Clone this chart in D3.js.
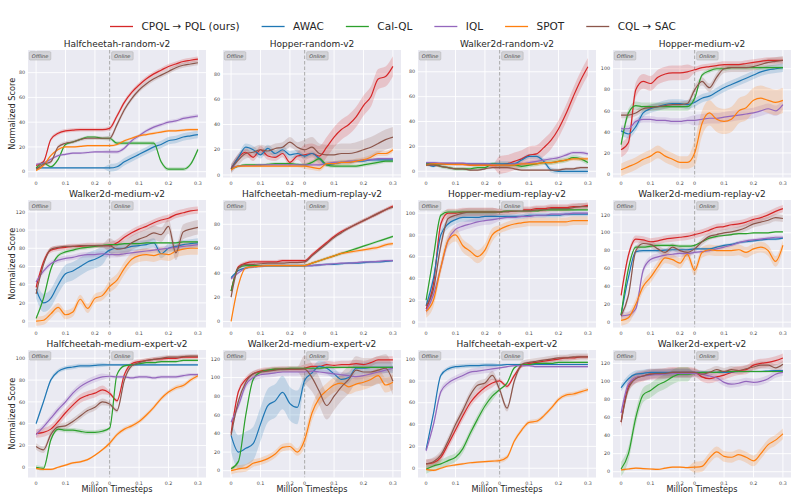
<!DOCTYPE html>
<html>
<head>
<meta charset="utf-8">
<script src="https://cdn.jsdelivr.net/npm/d3@7"></script>
<style>
  body { margin: 0; background: #fff; }
  svg { display: block; font-family: "DejaVu Sans", sans-serif; }
</style>
</head>
<body>
<div id="chart"></div>
<script>
/* global d3 */

// order of series everywhere: CPQL, AWAC, Cal-QL, IQL, SPOT, CQL
const seriesNames = ["CPQL \u2192 PQL (ours)", "AWAC", "Cal-QL", "IQL", "SPOT", "CQL \u2192 SAC"];
const seriesColors = ["#d62728", "#1f77b4", "#2ca02c", "#9467bd", "#ff7f0e", "#8c564b"];

// offline 0..0.25, then online 0..0.3 drawn after the dashed line
const timesteps = [0, 0.025, 0.05, 0.075, 0.1, 0.125, 0.15, 0.175, 0.2, 0.225, 0.25,
  0.275, 0.3, 0.325, 0.35, 0.375, 0.4, 0.425, 0.45, 0.475, 0.5, 0.525, 0.55];
const xTickValues = [0, 0.1, 0.2, 0.25, 0.35, 0.45, 0.55];
const xTickLabels = ["0", "0.1", "0.2", "0", "0.1", "0.2", "0.3"];

const panelTitles = [
  "Halfcheetah-random-v2", "Hopper-random-v2", "Walker2d-random-v2", "Hopper-medium-v2",
  "Walker2d-medium-v2", "Halfcheetah-medium-replay-v2", "Hopper-medium-replay-v2", "Walker2d-medium-replay-v2",
  "Halfcheetah-medium-expert-v2", "Walker2d-medium-expert-v2", "Halfcheetah-expert-v2", "Walker2d-expert-v2"
];
const panelYDomains = [
  [-4.7, 98.3], [-2, 99], [-5, 97.5], [-3.3, 117.8],
  [-7, 133], [-5, 100], [-5, 112], [-6, 136.7],
  [-9.4, 107.6], [-7.3, 129.6], [-8.5, 108.3], [-6.4, 134.8]
];
const panelYTicks = [
  [0, 20, 40, 60, 80], [0, 20, 40, 60, 80], [0, 20, 40, 60, 80], [0, 20, 40, 60, 80, 100],
  [0, 20, 40, 60, 80, 100, 120], [0, 20, 40, 60, 80], [0, 20, 40, 60, 80, 100], [0, 20, 40, 60, 80, 100, 120],
  [0, 20, 40, 60, 80, 100], [0, 20, 40, 60, 80, 100, 120], [0, 20, 40, 60, 80, 100], [0, 20, 40, 60, 80, 100, 120]
];

const halfcheetahRandom = [
  [5, 8, 26, 31, 33, 33.5, 34, 34, 34, 34, 35, 45, 56, 64, 70, 75, 79, 82, 85, 87, 89, 90, 91],
  [3, 3, 3, 3, 3, 3, 3, 3, 3, 3, 3, 4, 8, 11, 14, 17, 20, 22, 25, 26, 28, 29, 30],
  [3, 7, 4, 10, 22, 24, 26, 28, 28, 27, 27, 23, 23, 23, 23, 23, 23, 8, 2, 2, 2, 6, 18],
  [6, 7, 10, 13, 14, 15, 15, 15.5, 16, 16, 16, 16, 19, 25, 29, 33, 36, 38, 40, 41, 43, 44, 45],
  [1, 5, 13, 18, 20, 20, 20.5, 21, 21, 21, 21, 22, 25, 27, 29, 30, 31, 32, 33, 33, 33.5, 34, 34],
  [2, 6, 8, 20, 23, 24, 26, 27, 27, 27, 27, 38, 50, 59, 66, 71, 75, 78, 81, 84, 86, 87, 88]
];
const hopperRandom = [
  [5, 14, 18, 14, 20, 15, 14, 17, 10, 15, 16, 17, 15, 22, 30, 36, 40, 46, 55, 62, 76, 78, 86],
  [5, 14, 22, 20, 16, 21, 17, 20, 16, 17, 15, 17, 13, 8, 9, 10, 10, 11, 11, 12, 12, 12, 12],
  [5, 7, 8, 8, 8, 8.5, 9, 9, 9, 8.5, 8, 10, 13, 8, 7, 7, 7, 7, 8, 9, 10, 11, 11],
  [6, 7, 7.5, 7.5, 8, 8, 8, 8, 8, 8, 8, 8, 8, 9, 10, 10, 11, 11, 12, 12, 13, 13, 13],
  [4, 7, 7, 7, 7, 7, 7, 7, 7, 7, 7, 6, 5, 9, 9, 10, 10, 11, 12, 14, 17, 17, 20],
  [5, 12, 17, 18, 20, 19, 21, 22, 26, 22, 20, 22, 17, 16, 16, 17, 17, 18, 20, 22, 25, 28, 30]
];
const walkerRandom = [
  [6, 6, 6, 6, 5.5, 5.5, 5, 5, 5, 4.5, 5, 6, 8, 10, 13, 14, 19, 25, 34, 46, 60, 73, 84],
  [6, 4, 6, 6, 6, 6, 6, 6, 6, 6, 6, 6, 6, 9, 12, 12, 8, 1, 0, 0, 0, 0, 0],
  [6, 6, 4, 3, 2, 2, 2, 3, 3, 6, 5, 5, 5, 4, 5, 6, 7, 7, 8, 9, 11, 10, 7],
  [7, 7, 6.5, 6.5, 6.5, 6.5, 6, 6, 6, 5.5, 5, 5, 6, 6, 7, 8, 9, 10, 11, 13, 15, 15, 14],
  [5, 6, 6, 5.5, 5.5, 5.5, 5, 5, 5, 5, 5, 5, 5, 6, 6, 6, 7, 7, 8, 9, 10, 10, 10],
  [5, 5, 4, 3, 2, 2, 1, 1, 2, 3, 3, 3, 2, 1, 1, 1, 1, 1, 1, 2, 2, 3, 3]
];
const hopperMedium = [
  [23, 30, 80, 88, 86, 92, 95, 96, 96, 97, 99, 101, 102, 103, 104, 104, 104, 105, 106, 107, 108, 108, 108],
  [41, 38, 45, 58, 62, 64, 66, 67, 67, 66, 68, 72, 74, 78, 82, 85, 88, 91, 94, 97, 99, 100, 101],
  [28, 58, 65, 64, 64, 64, 64, 64, 64, 64, 72, 94, 98, 100, 100, 101, 101, 101, 101, 101, 101, 101, 101],
  [43, 43, 50, 52, 52, 51, 51, 50, 50, 51, 51, 52, 53, 53, 54, 55, 56, 57, 58, 60, 62, 60, 66],
  [4, 7, 10, 14, 17, 21, 17, 14, 11, 11, 20, 48, 58, 52, 50, 52, 60, 63, 70, 72, 70, 68, 70],
  [56, 56, 58, 62, 63, 64, 65, 66, 66, 67, 80, 88, 82, 92, 100, 101, 101, 101, 102, 104, 106, 107, 108]
];
const walkerMedium = [
  [37, 65, 78, 80, 81, 82, 82, 83, 83, 83, 83, 86, 92, 97, 101, 104, 108, 111, 113, 117, 119, 121, 122],
  [35, 20, 25, 40, 52, 55, 60, 65, 68, 72, 78, 80, 80, 82, 83, 84, 86, 74, 80, 82, 84, 85, 86],
  [3, 25, 57, 72, 76, 78, 80, 81, 82, 83, 84, 84, 85, 85, 85, 86, 86, 86, 86, 86, 87, 87, 87],
  [43, 55, 63, 67, 69, 70, 72, 73, 73, 74, 73, 73, 74, 75, 76, 77, 78, 79, 80, 81, 82, 83, 84],
  [0, 1, 8, 15, 7, 10, 24, 14, 25, 28, 38, 45, 58, 68, 72, 73, 72, 74, 73, 77, 79, 80, 80],
  [30, 62, 79, 81, 82, 82, 83, 83, 83, 83, 83, 79, 80, 86, 90, 93, 97, 95, 104, 75, 98, 101, 103]
];
const halfcheetahMediumReplay = [
  [25, 45, 48, 49, 49, 49, 49, 50, 50, 50, 50, 55, 60, 65, 70, 74, 77, 80, 83, 86, 89, 92, 95],
  [36, 42, 44, 45, 45.5, 46, 46, 46, 46, 46, 46, 46, 46.5, 47, 47, 47.5, 48, 48, 48.5, 49, 49, 49.5, 50],
  [25, 44, 46, 46, 46, 46, 46, 46, 46, 46, 46, 48, 50, 52, 54, 56, 58, 60, 62, 64, 66, 68, 70],
  [35, 40, 44, 45, 45.5, 46, 46, 46, 46, 46, 46, 46, 46.5, 47, 47.5, 48, 48, 48.5, 49, 49, 49.5, 50, 50],
  [0, 30, 44, 45, 45.5, 46, 46, 46, 46, 46, 46, 48, 50, 52, 54, 56, 57, 58, 59, 60, 61, 63, 64],
  [20, 44, 47, 47, 47.5, 48, 48, 48, 48.5, 48.5, 49, 54, 59, 64, 69, 73, 77, 80, 83, 86, 89, 92, 94]
];
const hopperMediumReplay = [
  [12, 35, 90, 100, 100, 101, 101, 101, 101, 101, 101, 102, 102, 103, 103, 104, 104, 105, 105, 105, 106, 106, 107],
  [15, 40, 80, 90, 94, 96, 96, 96, 97, 97, 97, 97, 97, 97, 98, 98, 98, 98, 98, 99, 99, 99, 99],
  [20, 60, 98, 101, 101, 101, 101, 101, 101, 101, 101, 102, 102, 102, 102, 102, 103, 103, 103, 103, 103, 103, 103],
  [10, 25, 50, 75, 85, 88, 90, 92, 93, 94, 95, 96, 96, 97, 97, 98, 98, 99, 99, 99, 100, 100, 100],
  [10, 20, 50, 75, 80, 70, 65, 60, 66, 80, 85, 88, 90, 91, 92, 92, 92, 92, 92, 92, 93, 93, 93],
  [15, 30, 70, 95, 98, 100, 101, 101, 101, 101, 101, 101, 102, 102, 102, 103, 103, 104, 104, 104, 105, 106, 106]
];
const walkerMediumReplay = [
  [30, 75, 93, 92, 90, 91, 93, 94, 95, 96, 98, 100, 103, 106, 107, 109, 110, 112, 115, 117, 120, 124, 127],
  [8, 50, 79, 80, 80, 80, 80.5, 81, 81, 81, 82, 82, 82, 84, 86, 87, 89, 90, 91, 92, 93, 93, 94],
  [8, 60, 84, 84, 85, 86, 86, 86, 85, 85, 86, 90, 94, 96, 97, 98, 99, 99, 100, 100, 100, 101, 101],
  [7, 8, 15, 58, 70, 73, 75, 76, 77, 77, 78, 79, 80, 82, 84, 86, 89, 91, 92, 93, 94, 95, 95],
  [2, 5, 20, 40, 50, 62, 72, 70, 66, 76, 58, 78, 81, 80, 80, 80, 81, 78, 82, 84, 80, 68, 86],
  [7, 30, 80, 88, 87, 82, 78, 84, 80, 78, 82, 90, 96, 98, 100, 101, 103, 106, 110, 112, 114, 117, 116]
];
const halfcheetahMediumExpert = [
  [31, 32, 35, 42, 50, 57, 63, 66, 68, 71, 68, 61, 85, 95, 97, 98, 99, 99.5, 100, 100, 101, 101, 101],
  [40, 60, 80, 88, 91, 92, 93, 93, 93.5, 94, 94, 94, 94, 94, 94, 94, 94, 94, 94, 94, 94, 94, 94],
  [0, -1, 25, 35, 34, 34, 33, 32, 32, 33, 36, 85, 93, 94, 95, 96, 96, 97, 97, 97, 98, 98, 98],
  [30, 37, 45, 53, 60, 68, 74, 78, 81, 83, 83.5, 83, 83, 82, 83, 83, 82, 83, 83, 83, 84, 85, 85],
  [-1, -2, -2, 0, 2, 4, 5, 7, 11, 16, 22, 30, 35, 38, 42, 48, 55, 63, 69, 73, 75, 80, 84],
  [19, 16, 30, 37, 38, 42, 47, 52, 55, 60, 58, 52, 80, 93, 96, 98, 99, 100, 101, 101, 101.5, 102, 102]
];
const walkerMediumExpert = [
  [40, 85, 98, 104, 107, 108, 109, 109, 109, 109, 110, 112, 112, 114, 113, 114, 114, 115, 114, 116, 119, 119, 119],
  [38, 20, 24, 29, 50, 70, 75, 84, 72, 68, 97, 105, 112, 110, 104, 98, 100, 110, 110, 111, 111, 111, 111],
  [2, 10, 60, 98, 106, 108, 109, 109, 110, 110, 110, 110, 110, 111, 111, 111, 111, 111, 111, 111, 111, 111, 111],
  [52, 70, 92, 100, 103, 104, 105, 106, 106, 106, 106, 107, 106, 105, 104, 103, 102, 101, 102, 104, 106, 108, 110],
  [0, 2, 3, 8, 10, 13, 18, 25, 26, 20, 33, 62, 78, 86, 92, 94, 90, 93, 95, 98, 102, 92, 95],
  [38, 75, 95, 104, 106, 107, 108, 109, 109, 109, 109, 100, 85, 70, 80, 90, 98, 108, 106, 106, 108, 110, 96]
];
const halfcheetahExpert = [
  [4, 5, 10, 22, 35, 48, 60, 68, 74, 78, 80, 75, 85, 94, 96, 97, 98, 99, 100, 101, 101, 102, 102],
  [17, 50, 85, 91, 93, 93.5, 94, 94, 94.5, 94.5, 94.5, 95, 95, 95, 95, 95, 95, 95, 95, 95, 95, 95, 95],
  [-1, 2, 4, 7, 10, 18, 32, 45, 57, 66, 72, 78, 92, 95, 95, 96, 96, 96, 97, 97, 97, 97, 97],
  [16, 40, 70, 78, 82, 85, 88, 89, 90, 91, 92, 93, 94, 94, 94, 93, 93, 93, 93, 93, 93, 93, 93],
  [-1, -2, 0, 2, 3, 4, 5, 5.5, 6, 6.5, 7, 10, 25, 35, 42, 43, 48, 55, 63, 67, 68, 70, 72],
  [4, 6, 12, 25, 40, 53, 67, 76, 78, 85, 72, 55, 80, 95, 97, 98, 99, 100, 101, 101, 102, 102, 102]
];
const walkerExpert = [
  [55, 95, 104, 106, 108, 108, 109, 110, 110, 110, 110, 105, 103, 105, 107, 110, 112, 113, 118, 120, 121, 123, 126],
  [93, 103, 108, 109, 110, 110, 110, 110, 110, 110, 110, 110, 110, 110, 110, 110.5, 111, 111, 111, 111, 111.5, 112, 112],
  [3, 20, 60, 85, 90, 96, 100, 105, 108, 108, 109, 110, 110, 110, 111, 111, 111, 111, 111, 111, 111, 111, 111],
  [65, 97, 104, 106, 107, 108, 108, 109, 109, 109, 109, 108, 106, 104, 99, 97, 98, 100, 99, 100, 103, 108, 110],
  [2, 3, 4, 3.5, 3, 2.5, 4, 5, 5, 4.5, 5, 6, 15, 22, 17, 16, 19, 16, 12, 20, 30, 35, 42],
  [55, 92, 103, 106, 108, 109, 109, 110, 110, 110, 110, 108, 110, 113, 111, 113, 112, 114, 116, 118, 118, 115, 119]
];

// shaded half-width per series: [offline, online]
const bandWidths = [
  [[1.5, 2], [0.5, 3], [1, 1.5], [1, 1.5], [0.8, 1], [1.5, 2]],
  [[3, 8], [3, 1.5], [1, 1.5], [0.8, 1], [0.8, 2], [4, 8]],
  [[1, 7], [1, 2], [1.5, 2], [1, 1.5], [1, 1.5], [1, 1]],
  [[7, 3], [4, 4], [4, 2], [3, 5], [6, 12], [3, 4]],
  [[3, 4], [10, 5], [2, 1], [3, 3], [5, 7], [2, 8]],
  [[1.5, 1.5], [1, 1], [1, 1], [1, 1], [1, 1.5], [1.5, 1.5]],
  [[4, 3], [4, 2], [2, 1], [4, 2], [6, 4], [4, 3]],
  [[4, 4], [2, 1.5], [2, 1], [4, 2], [6, 6], [4, 4]],
  [[4, 2], [2, 1], [2, 1], [3, 1.5], [1, 2], [3, 2]],
  [[3, 4], [18, 6], [2, 1], [4, 3], [4, 8], [3, 15]],
  [[4, 2], [2, 1], [4, 1], [3, 1], [1, 2], [4, 3]],
  [[6, 5], [4, 1], [8, 1], [5, 4], [1, 6], [5, 4]]
];

const panelData = [
  halfcheetahRandom, hopperRandom, walkerRandom, hopperMedium,
  walkerMedium, halfcheetahMediumReplay, hopperMediumReplay, walkerMediumReplay,
  halfcheetahMediumExpert, walkerMediumExpert, halfcheetahExpert, walkerExpert
];

const width = 798, height = 501;
const panelW = 178, panelH = 127.5;
const colLeft = [28, 223, 418, 613];
const rowTop = [50, 200, 350];
const switchIndex = 10; // offline -> online

const svg = d3.select("#chart").append("svg")
  .attr("width", width)
  .attr("height", height);

// Legend
function appendLegend() {
  const legend = svg.append("g").attr("class", "legend");
  let x = 110;
  seriesNames.forEach((name, i) => {
    legend.append("line")
      .attr("x1", x).attr("x2", x + 23)
      .attr("y1", 26.5).attr("y2", 26.5)
      .attr("stroke", seriesColors[i])
      .attr("stroke-width", 1.3);
    const t = legend.append("text")
      .attr("x", x + 31.5)
      .attr("y", 30.3)
      .attr("font-size", "10.5px")
      .attr("fill", "#262626")
      .text(name);
    x += 31.5 + t.node().getComputedTextLength() + 22;
  });
}

function drawPanel(i) {
  const col = i % 4, row = Math.floor(i / 4);
  const g = svg.append("g").attr("transform", `translate(${colLeft[col]},${rowTop[row]})`);

  const x = d3.scaleLinear().domain([-0.0275, 0.5775]).range([0, panelW]);
  const y = d3.scaleLinear().domain(panelYDomains[i]).range([panelH, 0]);

  g.append("rect").attr("width", panelW).attr("height", panelH).attr("fill", "#eaeaf2");

  // grid
  g.selectAll(".vgrid")
    .data(xTickValues.filter(v => v !== 0.25))
    .enter().append("line")
    .attr("x1", d => x(d)).attr("x2", d => x(d))
    .attr("y1", 0).attr("y2", panelH)
    .attr("stroke", "#fff").attr("stroke-width", 0.9);
  g.selectAll(".hgrid")
    .data(panelYTicks[i])
    .enter().append("line")
    .attr("x1", 0).attr("x2", panelW)
    .attr("y1", d => y(d)).attr("y2", d => y(d))
    .attr("stroke", "#fff").attr("stroke-width", 0.9);

  // tick labels
  g.selectAll(".ylab")
    .data(panelYTicks[i])
    .enter().append("text")
    .attr("x", -3).attr("y", d => y(d))
    .attr("dy", "0.35em")
    .attr("text-anchor", "end")
    .attr("font-size", "4.8px")
    .attr("fill", "#444")
    .text(d => d);
  g.selectAll(".xlab")
    .data(xTickValues)
    .enter().append("text")
    .attr("x", d => x(d)).attr("y", panelH + 7)
    .attr("text-anchor", "middle")
    .attr("font-size", "4.8px")
    .attr("fill", "#444")
    .text((d, k) => xTickLabels[k]);

  // clip
  const clipId = `clip-${i}`;
  g.append("clipPath").attr("id", clipId)
    .append("rect").attr("width", panelW).attr("height", panelH);
  const plot = g.append("g").attr("clip-path", `url(#${clipId})`);

  // dashed switch line
  plot.append("line")
    .attr("x1", x(0.25)).attr("x2", x(0.25))
    .attr("y1", 0).attr("y2", panelH)
    .attr("stroke", "#ababab")
    .attr("stroke-width", 1)
    .attr("stroke-dasharray", "3.5,2");

  const data = panelData[i];
  data.forEach((vals, s) => {
    const band = bandWidths[i][s];
    const pts = vals.map((v, j) => ({ t: timesteps[j], v, b: j < switchIndex ? band[0] : band[1] }));
    const area = d3.area()
      .x(d => x(d.t))
      .y0(d => y(d.v - d.b))
      .y1(d => y(d.v + d.b))
      .curve(d3.curveMonotoneX);
    plot.append("path")
      .attr("d", area(pts))
      .attr("fill", seriesColors[s])
      .attr("fill-opacity", 0.2);
  });
  data.forEach((vals, s) => {
    const line = d3.line()
      .x((d, j) => x(timesteps[j]))
      .y(d => y(d))
      .curve(d3.curveMonotoneX);
    plot.append("path")
      .attr("d", line(vals))
      .attr("fill", "none")
      .attr("stroke", seriesColors[s])
      .attr("stroke-width", 1.2);
  });

  // phase tags
  [["Offline", 1.3], ["Online", x(0.25) + 2]].forEach(([label, bx]) => {
    g.append("rect")
      .attr("x", bx).attr("y", 1.7)
      .attr("width", 21.5).attr("height", 8.3)
      .attr("rx", 1)
      .attr("fill", "#d3d3d8")
      .attr("stroke", "#b5b5b5")
      .attr("stroke-width", 0.6);
    g.append("text")
      .attr("x", bx + 10.75).attr("y", 7.6)
      .attr("text-anchor", "middle")
      .attr("font-size", "5px")
      .attr("font-style", "italic")
      .attr("fill", "#444")
      .text(label);
  });

  // title
  g.append("text")
    .attr("x", panelW / 2).attr("y", -3)
    .attr("text-anchor", "middle")
    .attr("font-size", "9px")
    .attr("fill", "#262626")
    .text(panelTitles[i]);

  if (col === 0) {
    g.append("text")
      .attr("transform", `translate(${12.5 - colLeft[0]},${panelH / 2}) rotate(-90)`)
      .attr("dy", "0.35em")
      .attr("text-anchor", "middle")
      .attr("font-size", "8.2px")
      .attr("fill", "#262626")
      .text("Normalized Score");
  }
  if (row === 2) {
    g.append("text")
      .attr("x", panelW / 2).attr("y", panelH + 14.5)
      .attr("text-anchor", "middle")
      .attr("font-size", "8.2px")
      .attr("fill", "#262626")
      .text("Million Timesteps");
  }
}

appendLegend();
panelData.forEach((d, i) => drawPanel(i));
</script>
</body>
</html>
